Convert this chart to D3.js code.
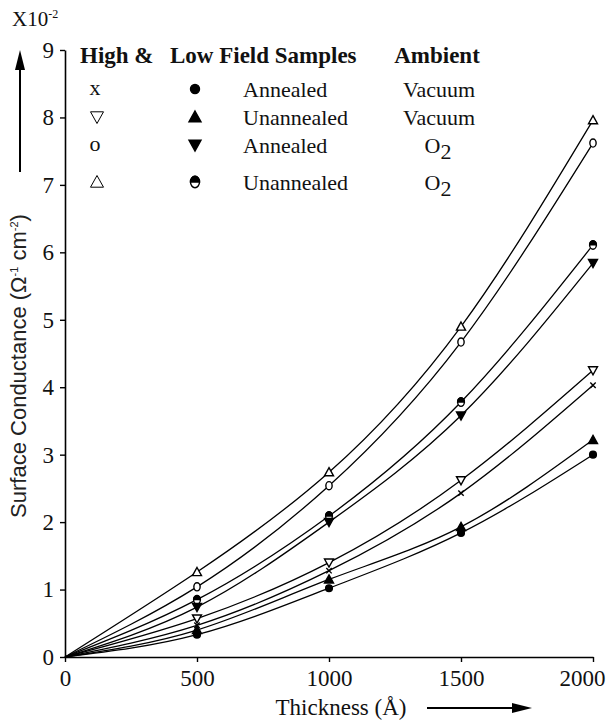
<!DOCTYPE html>
<html><head><meta charset="utf-8">
<script src="https://cdn.jsdelivr.net/npm/d3@7"></script>
<style>body{margin:0;background:#fff}</style>
</head><body>
<svg id="c" width="612" height="725"></svg>
<script>
// ---- data ----
const thickness = [0, 500, 1000, 1500, 2000];
const xTicks = [0, 500, 1000, 1500, 2000];
const yTicks = [0, 1, 2, 3, 4, 5, 6, 7, 8, 9];

const highUnannealedO2   = [0, 1.26, 2.74, 4.90, 7.96]; // open up-triangle
const highAnnealedO2     = [0, 1.04, 2.54, 4.67, 7.62]; // open circle
const lowUnannealedO2    = [0, 0.85, 2.09, 3.78, 6.11]; // half-filled circle
const lowAnnealedO2      = [0, 0.74, 2.00, 3.58, 5.84]; // filled down-triangle
const highUnannealedVac  = [0, 0.57, 1.40, 2.62, 4.25]; // open down-triangle
const highAnnealedVac    = [0, 0.47, 1.28, 2.43, 4.03]; // x
const lowUnannealedVac   = [0, 0.40, 1.15, 1.93, 3.22]; // filled up-triangle
const lowAnnealedVac     = [0, 0.33, 1.02, 1.84, 3.00]; // filled dot

const series = [
  {values: highUnannealedO2,  marker: "triUpOpen"},
  {values: highAnnealedO2,    marker: "circleOpen"},
  {values: lowUnannealedO2,   marker: "half"},
  {values: lowAnnealedO2,     marker: "triDownFilled"},
  {values: highUnannealedVac, marker: "triDownOpen"},
  {values: highAnnealedVac,   marker: "cross"},
  {values: lowUnannealedVac,  marker: "triUpFilled"},
  {values: lowAnnealedVac,    marker: "dot"}
];

const legendRows = [
  {high: "cross",      low: "dot",           label: "Annealed",   amb: "Vacuum"},
  {high: "triDownOpen",low: "triUpFilled",   label: "Unannealed", amb: "Vacuum"},
  {high: "circleOpen", low: "triDownFilled", label: "Annealed",   amb: "O2"},
  {high: "triUpOpen",  low: "half",          label: "Unannealed", amb: "O2"}
];

// ---- drawing ----
const svg = d3.select("#c");
const serif = "'Liberation Serif','Times New Roman',serif";
const sans = "'Liberation Sans',Arial,sans-serif";

const x = d3.scaleLinear().domain([0, 2000]).range([65, 593]);
const y = d3.scaleLinear().domain([0, 9]).range([657, 50]);

function marker(g, type, cx, cy, s) {
  const h = s / 2;
  let el;
  switch (type) {
    case "triUpOpen":
      el = g.append("path").attr("d", `M${cx},${cy-h}L${cx+h},${cy+h*0.8}L${cx-h},${cy+h*0.8}Z`).attr("fill", "#fff"); break;
    case "triUpFilled":
      el = g.append("path").attr("d", `M${cx},${cy-h}L${cx+h},${cy+h*0.8}L${cx-h},${cy+h*0.8}Z`).attr("fill", "#000"); break;
    case "triDownOpen":
      el = g.append("path").attr("d", `M${cx-h},${cy-h*0.8}L${cx+h},${cy-h*0.8}L${cx},${cy+h}Z`).attr("fill", "#fff"); break;
    case "triDownFilled":
      el = g.append("path").attr("d", `M${cx-h},${cy-h*0.8}L${cx+h},${cy-h*0.8}L${cx},${cy+h}Z`).attr("fill", "#000"); break;
    case "circleOpen":
      el = g.append("ellipse").attr("cx", cx).attr("cy", cy).attr("rx", h*0.7).attr("ry", h*0.9).attr("fill", "#fff"); break;
    case "dot":
      el = g.append("circle").attr("cx", cx).attr("cy", cy).attr("r", h*0.75).attr("fill", "#000"); break;
    case "half":
      g.append("ellipse").attr("cx", cx).attr("cy", cy).attr("rx", h*0.75).attr("ry", h*0.95).attr("fill", "#fff").attr("stroke", "#000").attr("stroke-width", 1.4);
      el = g.append("path").attr("d", `M${cx-h*0.75},${cy}A${h*0.75},${h*0.95} 0 0 1 ${cx+h*0.75},${cy}Z`).attr("fill", "#000"); break;
    case "cross":
      el = g.append("path").attr("d", `M${cx-h*0.6},${cy-h*0.6}L${cx+h*0.6},${cy+h*0.6}M${cx+h*0.6},${cy-h*0.6}L${cx-h*0.6},${cy+h*0.6}`).attr("fill", "none"); break;
  }
  if (el) el.attr("stroke", "#000").attr("stroke-width", 1.4);
}

// axes
const yAxis = svg.append("g").attr("transform", `translate(${x(0)},0)`)
  .call(d3.axisLeft(y).tickValues(yTicks).tickSize(5).tickSizeOuter(0).tickPadding(6).tickFormat(d3.format("d")));
const xAxis = svg.append("g").attr("transform", `translate(0,${y(0)})`)
  .call(d3.axisBottom(x).tickValues(xTicks).tickSize(5).tickSizeOuter(0).tickPadding(8).tickFormat(d3.format("d")));
[yAxis, xAxis].forEach(a => {
  a.selectAll("path.domain").attr("stroke", "#000").attr("stroke-width", 1.6);
  a.selectAll(".tick line").attr("stroke", "#000").attr("stroke-width", 1.4);
  a.selectAll(".tick text").attr("font-family", serif).attr("font-size", 23).attr("fill", "#111");
});
// last x label sits left of its tick so it stays inside the frame
xAxis.selectAll(".tick text").filter(d => d === 2000).attr("text-anchor", "end").attr("x", 12);

// curves
const line = d3.line().x((d, i) => x(thickness[i])).y(d => y(d)).curve(d3.curveNatural);
series.forEach(s => {
  svg.append("path").datum(s.values).attr("d", line)
    .attr("fill", "none").attr("stroke", "#000").attr("stroke-width", 1.3);
});
series.forEach(s => {
  const g = svg.append("g");
  s.values.forEach((v, i) => { if (i > 0) marker(g, s.marker, x(thickness[i]), y(v), 9); });
});

// legend
const lg = svg.append("g").attr("font-family", serif).attr("fill", "#111");
lg.append("text").attr("x", 80).attr("y", 63).attr("font-size", 23).attr("font-weight", "bold").text("High &");
lg.append("text").attr("x", 170).attr("y", 63).attr("font-size", 23).attr("font-weight", "bold").text("Low Field Samples");
lg.append("text").attr("x", 437).attr("y", 63).attr("text-anchor", "middle").attr("font-size", 23).attr("font-weight", "bold").text("Ambient");
const rowY = [89, 117, 145, 182];
legendRows.forEach((r, i) => {
  const cy = rowY[i];
  if (r.high === "cross") {
    lg.append("text").attr("x", 95).attr("y", cy + 6).attr("text-anchor", "middle").attr("font-size", 22).text("x");
  } else if (r.high === "circleOpen") {
    lg.append("text").attr("x", 95).attr("y", cy + 6).attr("text-anchor", "middle").attr("font-size", 22).text("o");
  } else {
    const g = lg.append("g");
    marker(g, r.high, 97, cy, 13);
    g.selectAll("path").attr("stroke-width", 1);
  }
  marker(lg.append("g"), r.low, 195, cy, 12);
  lg.append("text").attr("x", 243).attr("y", cy + 8).attr("font-size", 22).text(r.label);
  if (r.amb === "O2") {
    const t = lg.append("text").attr("x", 438).attr("y", cy + 8).attr("text-anchor", "middle").attr("font-size", 22);
    t.append("tspan").text("O");
    t.append("tspan").attr("dy", 6).text("2");
  } else {
    lg.append("text").attr("x", 439).attr("y", cy + 8).attr("text-anchor", "middle").attr("font-size", 22).text(r.amb);
  }
});

// X10^-2
const ex = svg.append("text").attr("x", 12).attr("y", 26).attr("font-family", serif).attr("font-size", 21).attr("fill", "#111");
ex.append("tspan").text("X10");
ex.append("tspan").attr("dy", -8).attr("font-size", 12).text("-2");

// y title
const yt = svg.append("text").attr("transform", "translate(26,366) rotate(-90)").attr("text-anchor", "middle")
  .attr("font-family", sans).attr("font-size", 22).attr("fill", "#222");
yt.append("tspan").text("Surface Conductance (Ω");
yt.append("tspan").attr("dy", -8).attr("font-size", 11).text("-1");
yt.append("tspan").attr("dy", 8).text(" cm");
yt.append("tspan").attr("dy", -8).attr("font-size", 11).text("-2");
yt.append("tspan").attr("dy", 8).text(")");

// x title
svg.append("text").attr("x", 341).attr("y", 715).attr("text-anchor", "middle")
  .attr("font-family", serif).attr("font-size", 23).attr("fill", "#111").text("Thickness (Å)");

// arrows
svg.append("line").attr("x1", 20).attr("x2", 20).attr("y1", 172).attr("y2", 66).attr("stroke", "#000").attr("stroke-width", 2);
svg.append("path").attr("d", "M20,50L25,70L15,70Z").attr("fill", "#000");
svg.append("line").attr("x1", 427).attr("x2", 516).attr("y1", 708).attr("y2", 708).attr("stroke", "#000").attr("stroke-width", 2);
svg.append("path").attr("d", "M532,708L512,703L512,713Z").attr("fill", "#000");
</script>
</body></html>
